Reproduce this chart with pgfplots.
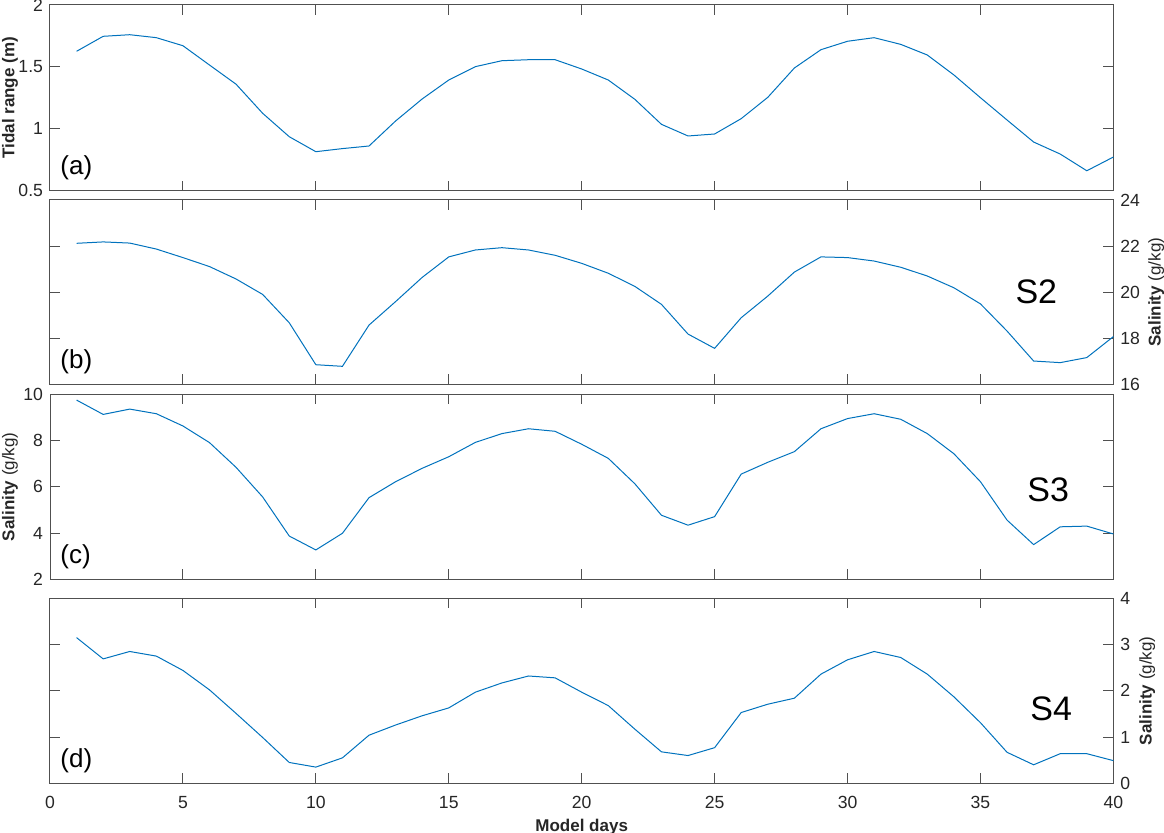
\documentclass[border=0pt]{standalone}
\usepackage{pgfplots}
\pgfplotsset{compat=1.18}
\usepackage{fontspec}
\setmainfont{Liberation Sans}
\definecolor{mblue}{RGB}{0,114,189}
\definecolor{axgray}{RGB}{80,80,80}
\definecolor{txtgray}{RGB}{38,38,38}
\pgfplotsset{
  every axis/.style={
    scale only axis, width=531.7pt,
    xmin=0, xmax=40, xtick={0,5,...,40},
    axis line style={axgray, line width=0.5pt},
    every tick/.style={axgray, line width=0.5pt},
    major tick length=5pt,
    tick align=inside,
    xtick pos=both, ytick pos=both,
    tick label style={font=\fontsize{8.8}{10}\selectfont, text=txtgray},
    label style={font=\fontsize{8.5}{10}\selectfont, text=txtgray},
    /pgf/number format/assume math mode=true,
    clip=false,
  },
  leftlab/.style={ylabel style={at={(axis description cs:-0.0376,0.5)}, anchor=center}},
  rightlab/.style={yticklabel pos=right, ylabel style={at={(axis description cs:#1,0.5)}, anchor=center}},
}
\newcommand{\plab}[1]{\node[anchor=west, font=\fontsize{13}{15}\selectfont, inner sep=0pt] at (rel axis cs:0,0) [xshift=5pt, yshift=11.5pt] {#1};}
\begin{document}
\begin{tikzpicture}
\path[use as bounding box] (-25pt,2.5pt) rectangle (557pt,-414pt);
% (a)
\begin{axis}[at={(0,0)}, anchor=north west, height=92.85pt,
  ymin=0.5, ymax=2, ytick={0.5,1,1.5,2}, yticklabels={0.5,1,1.5,2},
  xticklabels={}, leftlab, ylabel={\textbf{Tidal range (m)}}]
\addplot[mblue, line width=0.5pt] coordinates {
(1,1.626)(2,1.747)(3,1.760)(4,1.736)(5,1.671)(6,1.515)(7,1.360)(8,1.125)(9,0.936)(10,0.815)
(11,0.840)(12,0.861)(13,1.063)(14,1.241)(15,1.394)(16,1.502)(17,1.550)(18,1.558)(19,1.558)(20,1.483)
(21,1.394)(22,1.238)(23,1.036)(24,0.942)(25,0.958)(26,1.082)(27,1.254)(28,1.491)(29,1.639)(30,1.707)
(31,1.736)(32,1.682)(33,1.596)(34,1.435)(35,1.251)(36,1.071)(37,0.893)(38,0.796)(39,0.661)(40,0.772)};
\plab{(a)}
\end{axis}
% (b)
\begin{axis}[at={(0,-97.5pt)}, anchor=north west, height=92.15pt,
  ymin=16, ymax=24, ytick={16,18,...,24},
  xticklabels={}, rightlab=1.0402, ylabel={\textbf{Salinity} (g/kg)}]
\addplot[mblue, line width=0.5pt] coordinates {
(1,22.12)(2,22.18)(3,22.13)(4,21.87)(5,21.50)(6,21.11)(7,20.57)(8,19.90)(9,18.67)(10,16.85)
(11,16.78)(12,18.57)(13,19.59)(14,20.64)(15,21.53)(16,21.83)(17,21.93)(18,21.83)(19,21.60)(20,21.25)
(21,20.82)(22,20.25)(23,19.47)(24,18.18)(25,17.56)(26,18.89)(27,19.83)(28,20.87)(29,21.53)(30,21.50)
(31,21.35)(32,21.08)(33,20.70)(34,20.19)(35,19.49)(36,18.31)(37,17.01)(38,16.94)(39,17.16)(40,18.07)};
\plab{(b)}
\node[font=\fontsize{17}{20}\selectfont] at (axis cs:37.1,20.02) {S2};
\end{axis}
% (c)
\begin{axis}[at={(0,-194.65pt)}, anchor=north west, height=92.5pt,
  ymin=2, ymax=10, ytick={2,4,...,10},
  xticklabels={}, leftlab, ylabel={\textbf{Salinity} (g/kg)}]
\addplot[mblue, line width=0.5pt] coordinates {
(1,9.75)(2,9.13)(3,9.36)(4,9.16)(5,8.63)(6,7.91)(7,6.84)(8,5.56)(9,3.87)(10,3.27)
(11,3.99)(12,5.53)(13,6.22)(14,6.80)(15,7.30)(16,7.92)(17,8.30)(18,8.51)(19,8.40)(20,7.84)
(21,7.23)(22,6.13)(23,4.77)(24,4.34)(25,4.71)(26,6.55)(27,7.06)(28,7.52)(29,8.51)(30,8.95)
(31,9.16)(32,8.92)(33,8.30)(34,7.43)(35,6.22)(36,4.56)(37,3.50)(38,4.27)(39,4.30)(40,3.96)};
\plab{(c)}
\node[font=\fontsize{17}{20}\selectfont] at (axis cs:37.55,5.86) {S3};
\end{axis}
% (d)
\begin{axis}[at={(0,-296.65pt)}, anchor=north west, height=92.5pt,
  ymin=0, ymax=4, ytick={0,1,...,4},
  xticklabel style={yshift=-3pt},
  xlabel={\textbf{Model days}}, xlabel style={yshift=1.5pt},
  rightlab=1.0318, ylabel={\textbf{Salinity} (g/kg)}]
\addplot[mblue, line width=0.5pt] coordinates {
(1,3.15)(2,2.69)(3,2.85)(4,2.75)(5,2.44)(6,2.02)(7,1.51)(8,0.99)(9,0.45)(10,0.35)
(11,0.55)(12,1.04)(13,1.26)(14,1.46)(15,1.63)(16,1.97)(17,2.17)(18,2.32)(19,2.28)(20,1.97)
(21,1.68)(22,1.17)(23,0.68)(24,0.60)(25,0.77)(26,1.53)(27,1.71)(28,1.84)(29,2.36)(30,2.67)
(31,2.85)(32,2.72)(33,2.36)(34,1.87)(35,1.31)(36,0.67)(37,0.40)(38,0.64)(39,0.64)(40,0.49)};
\plab{(d)}
\node[font=\fontsize{17}{20}\selectfont] at (axis cs:37.66,1.62) {S4};
\end{axis}
\end{tikzpicture}
\end{document}
